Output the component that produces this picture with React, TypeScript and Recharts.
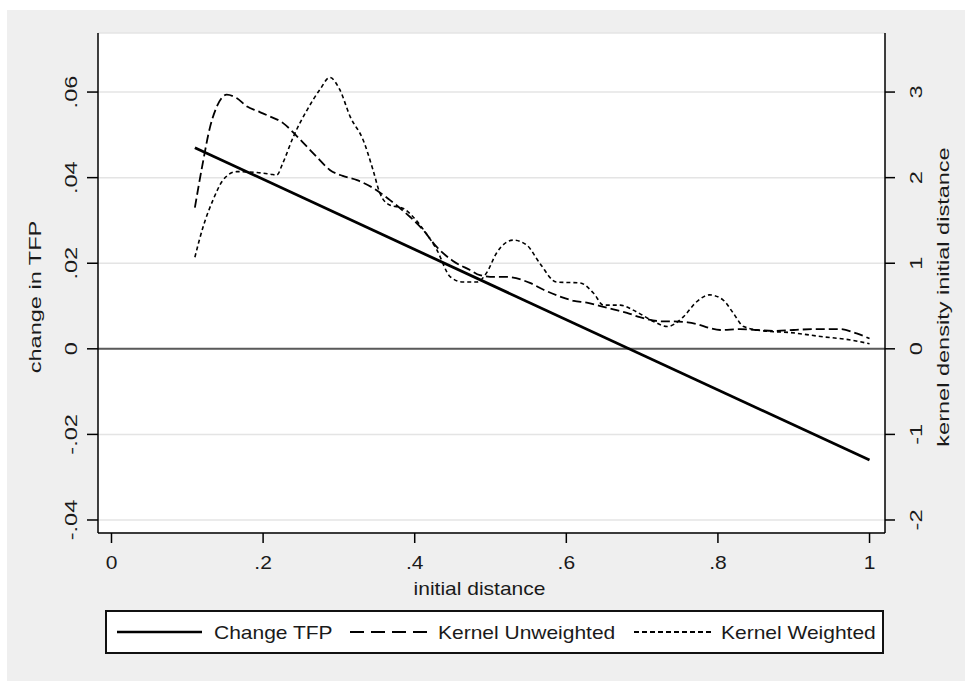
import React from "react";
import {
  LineChart,
  Line,
  XAxis,
  YAxis,
  CartesianGrid,
  ReferenceLine,
} from "recharts";

// ---------- data ----------
const xTicks = [0, 0.2, 0.4, 0.6, 0.8, 1];
const xTickLabels = ["0", ".2", ".4", ".6", ".8", "1"];
const leftTicks = [-0.04, -0.02, 0, 0.02, 0.04, 0.06];
const leftTickLabels = ["-.04", "-.02", "0", ".02", ".04", ".06"];
const rightTicks = [-2, -1, 0, 1, 2, 3];
const rightTickLabels = ["-2", "-1", "0", "1", "2", "3"];

const tfpX = [0.11, 1.0];
const tfpY = [0.047, -0.026];

const kuX = [
  0.11, 0.12, 0.13, 0.14, 0.152, 0.165, 0.179, 0.192, 0.205, 0.226, 0.245,
  0.258, 0.271, 0.288, 0.305, 0.324, 0.345, 0.367, 0.394, 0.41, 0.429, 0.45,
  0.473, 0.486, 0.505, 0.521, 0.552, 0.57, 0.592, 0.61, 0.627, 0.645, 0.662,
  0.68, 0.697, 0.728, 0.741, 0.76, 0.772, 0.79, 0.803, 0.829, 0.85, 0.873,
  0.9, 0.925, 0.961, 0.983, 1.0,
];
const kuY = [
  1.65, 2.15, 2.59, 2.85, 2.97, 2.93, 2.83, 2.78, 2.73, 2.64, 2.48, 2.36,
  2.24, 2.09, 2.02, 1.97, 1.88, 1.74, 1.54, 1.4, 1.19, 1.03, 0.92, 0.86,
  0.84, 0.84, 0.77, 0.69, 0.61, 0.56, 0.54, 0.5, 0.46, 0.42, 0.37, 0.32,
  0.32, 0.31, 0.29, 0.24, 0.22, 0.23, 0.22, 0.21, 0.22, 0.23, 0.23, 0.18,
  0.12,
];

const kwX = [
  0.11, 0.121, 0.134, 0.147, 0.165, 0.192, 0.21, 0.218, 0.226, 0.24, 0.258,
  0.275, 0.288, 0.301, 0.315, 0.332, 0.345, 0.354, 0.367, 0.385, 0.398,
  0.415, 0.429, 0.447, 0.464, 0.482, 0.495, 0.508, 0.53, 0.548, 0.565,
  0.587, 0.618, 0.636, 0.649, 0.671, 0.693, 0.715, 0.733, 0.754, 0.772,
  0.789, 0.807, 0.82, 0.834, 0.86, 0.895, 0.939, 0.97, 1.0,
];
const kwY = [
  1.07, 1.43, 1.74, 1.97, 2.07, 2.06, 2.04, 2.03, 2.17, 2.48, 2.79, 3.03,
  3.17, 3.03, 2.71, 2.44, 2.09, 1.82, 1.68, 1.64, 1.54, 1.35, 1.16, 0.84,
  0.78, 0.78, 0.89, 1.12, 1.27, 1.21, 1.0, 0.78, 0.77, 0.65, 0.51, 0.51,
  0.43, 0.32, 0.26, 0.37, 0.55, 0.63, 0.57, 0.42, 0.26, 0.21, 0.19, 0.14,
  0.11, 0.06,
];

const seriesNames = ["Change TFP", "Kernel Unweighted", "Kernel Weighted"];

// ---------- styles ----------
const FONT = "'Liberation Sans', Arial, Helvetica, sans-serif";
const TEXT = "#1a1a1a";
const H_SIZE = 17.5;
const H_STRETCH = 1.2;
const V_SIZE = 16;
const V_STRETCH = 1.47;
const DASH_U = "9 4";
const DASH_W = "4 3";

const tfpData = tfpX.map((x, i) => ({ x, y: tfpY[i] }));
const kuData = kuX.map((x, i) => ({ x, y: kuY[i] }));
const kwData = kwX.map((x, i) => ({ x, y: kwY[i] }));

type STextProps = {
  x: number;
  y: number;
  text: string;
  size: number;
  stretch: number;
  angle: number;
  anchor?: "start" | "middle" | "end";
};

const SText = ({ x, y, text, size, stretch, angle, anchor = "middle" }: STextProps) => (
  <text
    transform={`translate(${x},${y}) rotate(${angle}) scale(${stretch},1)`}
    textAnchor={anchor}
    dominantBaseline="central"
    fontSize={size}
    fontFamily={FONT}
    fill={TEXT}
  >
    {text}
  </text>
);

const XTick = (props: any) => {
  const idx = xTicks.indexOf(props.payload.value);
  return (
    <SText
      x={props.x}
      y={props.y + 20.5}
      text={xTickLabels[idx] ?? String(props.payload.value)}
      size={H_SIZE}
      stretch={H_STRETCH}
      angle={0}
    />
  );
};

const LeftTick = (props: any) => {
  const idx = leftTicks.findIndex((t) => Math.abs(t - props.payload.value) < 1e-9);
  return (
    <SText
      x={props.x - 16}
      y={props.y}
      text={leftTickLabels[idx] ?? String(props.payload.value)}
      size={V_SIZE}
      stretch={V_STRETCH}
      angle={-90}
    />
  );
};

const RightTick = (props: any) => {
  const idx = rightTicks.findIndex((t) => Math.abs(t - props.payload.value) < 1e-9);
  return (
    <SText
      x={props.x + 21}
      y={props.y}
      text={rightTickLabels[idx] ?? String(props.payload.value)}
      size={V_SIZE}
      stretch={V_STRETCH}
      angle={-90}
    />
  );
};

const axisLineStyle = { stroke: "#000", strokeWidth: 1.5 };

const Legend = () => (
  <div
    style={{
      position: "absolute",
      left: 98,
      top: 600,
      width: 779,
      height: 44,
      boxSizing: "border-box",
      border: "2px solid #111",
      background: "#fff",
    }}
  >
    <svg width={775} height={40} style={{ position: "absolute", left: 0, top: 0 }}>
      <line x1={10} x2={95} y1={20} y2={20} stroke="#000" strokeWidth={2.5} />
      <SText x={107} y={21} text={seriesNames[0]} size={H_SIZE} stretch={H_STRETCH} angle={0} anchor="start" />
      <line x1={243} x2={321} y1={20} y2={20} stroke="#000" strokeWidth={2} strokeDasharray="14 7" />
      <SText x={331} y={21} text={seriesNames[1]} size={H_SIZE} stretch={H_STRETCH} angle={0} anchor="start" />
      <line x1={527} x2={607} y1={20} y2={20} stroke="#000" strokeWidth={1.8} strokeDasharray="5 3" />
      <SText x={614} y={21} text={seriesNames[2]} size={H_SIZE} stretch={H_STRETCH} angle={0} anchor="start" />
    </svg>
  </div>
);

export default function App() {
  return (
    <div
      style={{
        position: "absolute",
        left: 7,
        top: 10,
        width: 958,
        height: 671,
        background: "#efefef",
      }}
    >
      <LineChart
        width={958}
        height={671}
        margin={{ top: 23, left: 11, right: 10, bottom: 88 }}
      >
        <CartesianGrid
          vertical={false}
          yAxisId="left"
          stroke="#e4e4e4"
          strokeWidth={1.5}
          fill="#ffffff"
          fillOpacity={1}
        />
        <XAxis
          type="number"
          dataKey="x"
          domain={[-0.0178, 1.0204]}
          ticks={xTicks}
          allowDataOverflow
          height={60}
          tickSize={10}
          tickMargin={0}
          axisLine={axisLineStyle}
          tickLine={axisLineStyle}
          tick={<XTick />}
          label={{
            content: (p: any) => {
              const vb = p.viewBox || { x: 91, y: 523, width: 787, height: 60 };
              return (
                <SText
                  x={vb.x + vb.width / 2 - 12}
                  y={vb.y + 56}
                  text="initial distance"
                  size={H_SIZE}
                  stretch={H_STRETCH}
                  angle={0}
                />
              );
            },
          }}
        />
        <YAxis
          yAxisId="left"
          type="number"
          domain={[-0.04304, 0.0738]}
          ticks={leftTicks}
          allowDataOverflow
          width={80}
          tickSize={11}
          tickMargin={0}
          axisLine={axisLineStyle}
          tickLine={axisLineStyle}
          tick={<LeftTick />}
          label={{
            content: (p: any) => {
              const vb = p.viewBox || { x: 11, y: 23, width: 80, height: 500 };
              return (
                <SText
                  x={vb.x + 17}
                  y={vb.y + vb.height / 2 + 14}
                  text="change in TFP"
                  size={V_SIZE}
                  stretch={V_STRETCH}
                  angle={-90}
                />
              );
            },
          }}
        />
        <YAxis
          yAxisId="right"
          orientation="right"
          type="number"
          domain={[-2.152, 3.69]}
          ticks={rightTicks}
          allowDataOverflow
          width={70}
          tickSize={10}
          tickMargin={0}
          axisLine={axisLineStyle}
          tickLine={axisLineStyle}
          tick={<RightTick />}
          label={{
            content: (p: any) => {
              const vb = p.viewBox || { x: 878, y: 23, width: 70, height: 500 };
              return (
                <SText
                  x={vb.x + 58}
                  y={vb.y + vb.height / 2 + 14}
                  text="kernel density initial distance"
                  size={V_SIZE}
                  stretch={V_STRETCH}
                  angle={-90}
                />
              );
            },
          }}
        />
        <ReferenceLine yAxisId="left" y={0} stroke="#5a5a5a" strokeWidth={2} />
        <Line
          yAxisId="right"
          data={kuData}
          dataKey="y"
          name={seriesNames[1]}
          type="monotone"
          stroke="#000"
          strokeWidth={1.8}
          strokeDasharray={DASH_U}
          dot={false}
          activeDot={false}
          isAnimationActive={false}
        />
        <Line
          yAxisId="right"
          data={kwData}
          dataKey="y"
          name={seriesNames[2]}
          type="monotone"
          stroke="#000"
          strokeWidth={1.6}
          strokeDasharray={DASH_W}
          dot={false}
          activeDot={false}
          isAnimationActive={false}
        />
        <Line
          yAxisId="left"
          data={tfpData}
          dataKey="y"
          name={seriesNames[0]}
          type="linear"
          stroke="#000"
          strokeWidth={2.8}
          dot={false}
          activeDot={false}
          isAnimationActive={false}
        />
      </LineChart>
      <Legend />
    </div>
  );
}
